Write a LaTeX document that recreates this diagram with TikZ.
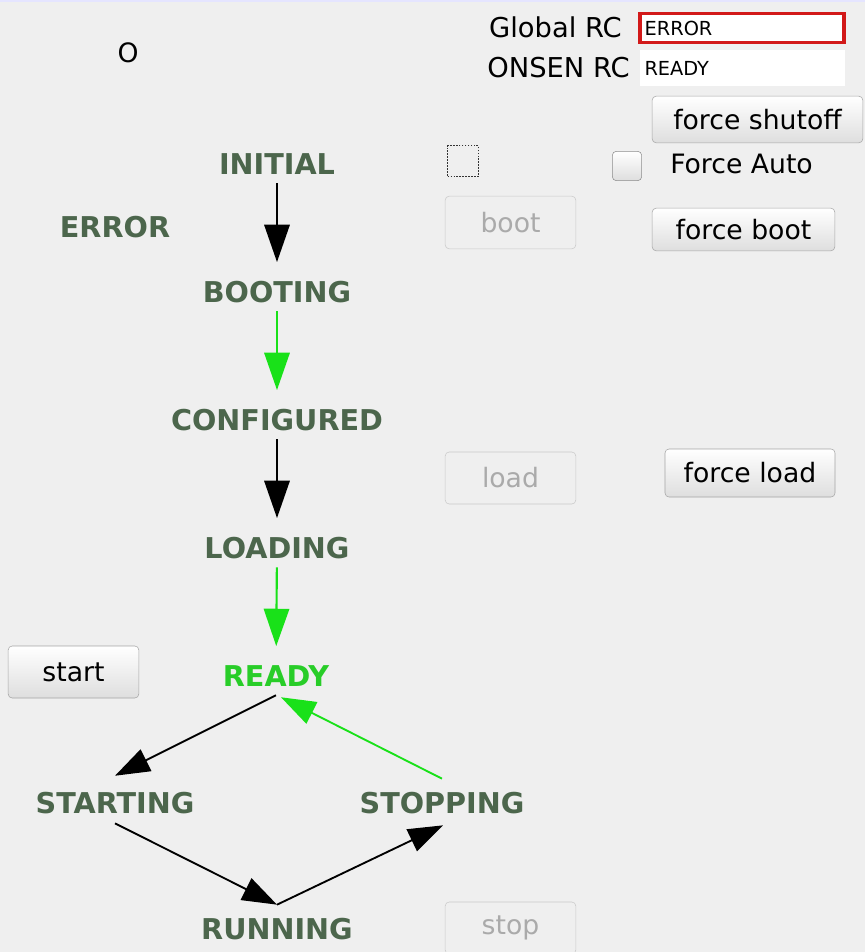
\documentclass[tikz,border=0pt]{standalone}
\usepackage{fontspec}
\setmainfont{DejaVu Sans}
\usepackage{tikz}
\usetikzlibrary{arrows.meta,positioning}
\definecolor{panelgray}{RGB}{239,239,239}
\definecolor{statedark}{RGB}{76,102,76}
\definecolor{stategreen}{RGB}{40,205,40}
\definecolor{linkgreen}{RGB}{25,225,25}
\definecolor{rcred}{RGB}{210,25,25}
\definecolor{btnedge}{RGB}{165,165,165}
\definecolor{btnlow}{RGB}{222,222,222}
\definecolor{offedge}{RGB}{200,200,200}
\definecolor{offtext}{RGB}{170,170,170}

\tikzset{
  state/.style={font=\bfseries\fontsize{21.5}{24}\selectfont,text=statedark,
    inner sep=0pt,text height=15.5pt,text depth=0pt},
  link/.style={line width=1.6pt,-{Triangle[length=28pt,width=19pt]},
    shorten <=6.5pt,shorten >=14.5pt},
  diag/.style={line width=1.4pt,-{Triangle[length=26pt,width=18pt]}},
  btn/.style={draw=btnedge,rounded corners=3pt,top color=white,bottom color=btnlow,
    font=\fontsize{20}{23}\selectfont,inner sep=0pt},
  btnoff/.style={draw=offedge,rounded corners=3pt,fill=panelgray,text=offtext,
    font=\fontsize{20}{23}\selectfont,inner sep=0pt},
  rcfield/.style={fill=white,text width=#1,align=left,inner xsep=3.5pt,
    font=\fontsize{14.5}{17}\selectfont},
  rclabel/.style={font=\fontsize{20.5}{23}\selectfont,inner sep=0pt,anchor=east}
}

\begin{document}
\begin{tikzpicture}[x=0.75pt,y=-0.75pt]
  \useasboundingbox (0,0) rectangle (865,952);
  \clip (0,0) rectangle (865,952);
  \fill[panelgray] (0,0) rectangle (865,952);
  \fill[blue!10] (0,0) rectangle (865,2);

  % run control fields
  \node[font=\fontsize{20}{23}\selectfont] (flag) at (128,53) {O};
  \node[rclabel] (globallbl) at (622,27) {Global RC};
  \node[rclabel] (onsenlbl) at (630,68) {ONSEN RC};
  \node[rcfield=146pt,draw=rcred,line width=2.4pt,minimum height=22pt] (globalrc) at (742,28) {ERROR};
  \node[rcfield=147pt,minimum height=27pt] (onsenrc) at (742.5,68) {READY};

  % buttons and check boxes
  \node[btn,minimum width=158pt,minimum height=35pt] (shutoff) at (757.5,119.5) {force shutoff};
  \node[draw=black!80,densely dotted,line width=1.2pt,minimum size=23pt,inner sep=0pt] (autobox) at (463,161) {};
  \node[draw=black!45,rounded corners=3pt,top color=white,bottom color=btnlow,
    minimum size=22pt,inner sep=0pt] (forceauto) at (627,166) {};
  \node[font=\fontsize{20}{23}\selectfont,inner sep=0pt,anchor=west] (forceautolbl) at (670,164) {Force Auto};
  \node[btnoff,minimum width=98pt,minimum height=39.5pt] (bootbtn) at (510.5,222.5) {boot};
  \node[btn,minimum width=137pt,minimum height=32pt] (forceboot) at (743.5,229.5) {force boot};
  \node[btnoff,minimum width=98pt,minimum height=39pt] (loadbtn) at (510.5,478) {load};
  \node[btn,minimum width=127.5pt,minimum height=36pt] (forceload) at (750,473) {force load};
  \node[btn,minimum width=98pt,minimum height=39pt] (startbtn) at (73.5,672) {start};
  \node[btnoff,minimum width=98pt,minimum height=39pt] (stopbtn) at (510.5,928) {stop};

  % state machine
  \node[state] (initial) at (277,164) {INITIAL};
  \node[state] (error) at (115,227) {ERROR};
  \node[state] (booting) at (277,292) {BOOTING};
  \node[state] (configured) at (277,420) {CONFIGURED};
  \node[state] (loading) at (277,548) {LOADING};
  \node[state,text=stategreen] (ready) at (276,676) {READY};
  \node[state] (starting) at (115,803) {STARTING};
  \node[state] (stopping) at (442,803) {STOPPING};
  \node[state] (running) at (277,929) {RUNNING};

  \draw[link] (initial) -- (booting);
  \draw[link,linkgreen] (booting) -- (configured);
  \draw[link] (configured) -- (loading);
  \draw[link,linkgreen] (loading) -- (ready);
  \draw[diag] ([yshift=-6.5pt]ready.south) -- ([yshift=12.5pt]starting.north);
  \draw[diag] ([yshift=-7.3pt]starting.south) -- ([yshift=10.3pt]running.north);
  \draw[diag] ([yshift=10.3pt]running.north) -- ([xshift=0.75pt,yshift=-8.8pt]stopping.south);
  \draw[diag,linkgreen] ([yshift=10.3pt]stopping.north) -- ([xshift=3.75pt,yshift=-8pt]ready.south);
\end{tikzpicture}
\end{document}
